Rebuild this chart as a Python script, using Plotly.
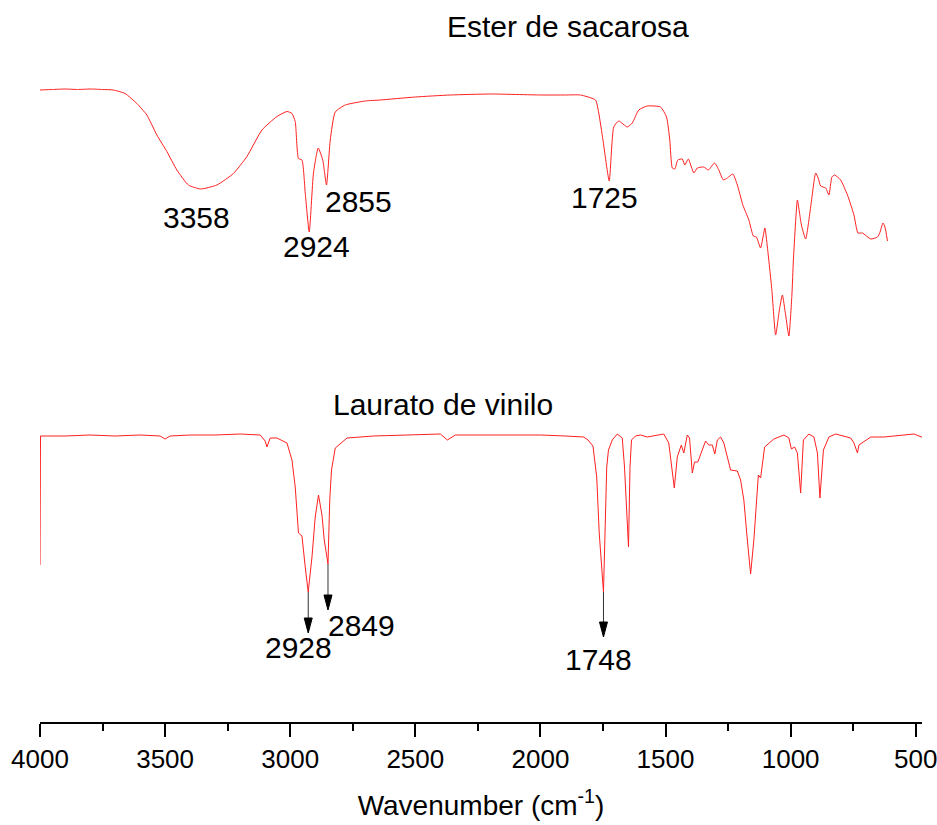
import plotly.graph_objects as go

# FTIR spectra, stacked on one intensity scale (arbitrary units)
ester_wn = [4000, 3950, 3900, 3850, 3800, 3750, 3707, 3660, 3613, 3573, 3533, 3493, 3453,
            3407, 3358, 3293, 3227, 3173, 3113, 3053, 3013, 2993, 2980, 2967, 2953, 2940,
            2924, 2907, 2888, 2870, 2855, 2840, 2820, 2780, 2700, 2640, 2500, 2360, 2200,
            2000, 1900, 1840, 1780, 1767, 1750, 1725, 1707, 1687, 1653, 1633, 1607, 1573,
            1520, 1496, 1483, 1473, 1463, 1451, 1433, 1423, 1409, 1387, 1373, 1347, 1329,
            1304, 1287, 1269, 1253, 1231, 1213, 1191, 1167, 1149, 1137, 1120, 1103, 1093,
            1075, 1060, 1045, 1033, 1020, 1007, 995, 989, 973, 965, 957, 940, 920, 900,
            890, 880, 860, 847, 835, 824, 800, 773, 747, 731, 713, 680, 653, 644, 631,
            623, 613]
ester_val = [126.4, 126.5, 126.6, 126.5, 126.6, 126.5, 126.4, 125.7, 123.7, 121.4, 117.4,
             114.1, 110.4, 107.4, 106.6, 107.4, 109.7, 113.1, 118.4, 121.1, 122.1, 121.7,
             120.1, 112.7, 112.4, 105.8, 98.0, 109.8, 114.8, 112.4, 107.4, 116.4, 122.0,
             123.4, 124.2, 124.4, 125.0, 125.4, 125.6, 125.4, 125.4, 125.4, 124.4, 121.8,
             116.4, 108.2, 119.0, 120.2, 119.0, 119.8, 122.4, 123.2, 123.0, 121.0, 116.4,
             110.8, 110.6, 112.4, 112.6, 111.4, 112.6, 109.8, 110.8, 111.0, 110.4, 111.8,
             110.4, 108.4, 108.8, 109.6, 107.4, 103.4, 100.4, 97.2, 97.0, 94.8, 98.8, 95.0,
             86.4, 77.4, 82.4, 85.4, 81.4, 77.2, 85.4, 92.4, 104.4, 102.0, 99.4, 96.6,
             103.0, 109.8, 108.8, 107.2, 106.8, 105.4, 109.0, 109.4, 108.4, 105.4, 101.4,
             97.8, 97.8, 96.6, 97.0, 97.8, 99.8, 99.0, 96.2]

laurato_wn = [4000, 3998, 3900, 3800, 3700, 3600, 3520, 3500, 3480, 3400, 3300, 3200, 3120,
              3100, 3093, 3085, 3080, 3053, 3013, 2993, 2980, 2967, 2953, 2940, 2928, 2913,
              2900, 2887, 2873, 2864, 2849, 2842, 2835, 2820, 2773, 2667, 2500, 2400, 2372,
              2340, 2200, 2000, 1900, 1827, 1810, 1790, 1775, 1765, 1748, 1742, 1735, 1728,
              1713, 1693, 1673, 1664, 1648, 1642, 1636, 1620, 1600, 1573, 1507, 1487, 1465,
              1460, 1453, 1437, 1427, 1413, 1404, 1393, 1384, 1371, 1340, 1327, 1313, 1303,
              1293, 1280, 1267, 1240, 1213, 1200, 1187, 1173, 1160, 1147, 1136, 1129, 1120,
              1104, 1067, 1027, 1007, 997, 984, 973, 960, 949, 927, 907, 893, 883, 869, 847,
              820, 760, 747, 733, 727, 680, 627, 560, 507, 467]
laurato_val = [31.4, 57.2, 57.2, 57.4, 57.2, 57.4, 57.2, 56.6, 57.2, 57.4, 57.4, 57.6, 57.4,
               56.2, 55.0, 56.4, 56.8, 56.8, 55.8, 52.4, 47.0, 37.8, 37.2, 31.0, 26.0, 33.0,
               41.0, 45.4, 41.4, 36.4, 31.6, 44.4, 50.4, 54.8, 56.8, 57.2, 57.4, 57.6, 56.4,
               57.4, 57.4, 57.4, 57.2, 57.0, 56.4, 55.2, 49.0, 37.8, 26.0, 37.8, 51.0, 54.4,
               56.4, 57.6, 56.8, 51.0, 35.0, 51.0, 56.4, 57.2, 57.4, 57.0, 57.6, 55.8, 46.8,
               49.4, 53.0, 55.4, 53.8, 57.4, 56.8, 49.8, 52.0, 52.0, 56.2, 55.4, 55.4, 53.6,
               56.4, 57.0, 55.8, 50.4, 50.2, 48.4, 44.4, 36.4, 29.6, 36.4, 44.4, 49.4, 48.8,
               55.0, 56.6, 57.4, 56.8, 54.6, 55.0, 53.8, 45.8, 56.4, 57.6, 57.0, 53.8, 44.8,
               54.4, 57.0, 57.6, 56.8, 55.8, 53.8, 55.4, 57.0, 57.0, 57.4, 57.6, 56.8]

# peak labels: (wavenumber, label x, label y)
ester_peaks = [(3358, 3376, 100.9), (2924, 2896, 95.2), (2855, 2726, 104.2), (1725, 1744, 105.0)]
laurato_peaks = [(2928, 2966, 14.9), (2849, 2716, 19.4), (1748, 1768, 12.6)]
arrow_len = [8.2, 9.2, 9.0]

x_ticks = [4000, 3500, 3000, 2500, 2000, 1500, 1000, 500]

RED = "#ff2020"
FONT = "Liberation Sans, Arial, sans-serif"

fig = go.Figure()
fig.add_trace(go.Scatter(x=ester_wn, y=ester_val, mode="lines",
                         line=dict(color=RED, width=1, shape="spline", smoothing=0.5),
                         name="Ester de sacarosa"))
fig.add_trace(go.Scatter(x=laurato_wn, y=laurato_val, mode="lines",
                         line=dict(color=RED, width=1),
                         name="Laurato de vinilo"))

annotations = []
for wn, lx, ly in ester_peaks:
    annotations.append(dict(x=lx, y=ly, xref="x", yref="y", text=str(wn), showarrow=False,
                            font=dict(size=30, color="black", family=FONT)))

# downward arrows from the vinyl laurate band minima
lookup = dict(zip(laurato_wn, laurato_val))
for (wn, lx, ly), L in zip(laurato_peaks, arrow_len):
    y0 = lookup[wn]
    tip = y0 - L
    head = 3.0      # head length in y units
    half = 16       # half head width in wavenumber units
    fig.add_trace(go.Scatter(x=[wn, wn], y=[y0, tip + head], mode="lines",
                             line=dict(color="#333333", width=1), hoverinfo="skip"))
    fig.add_trace(go.Scatter(x=[wn - half, wn + half, wn, wn - half],
                             y=[tip + head, tip + head, tip, tip + head],
                             mode="lines", fill="toself", fillcolor="black",
                             line=dict(color="black", width=1), hoverinfo="skip"))
    annotations.append(dict(x=lx, y=ly, xref="x", yref="y", text=str(wn), showarrow=False,
                            font=dict(size=30, color="black", family=FONT)))

annotations.append(dict(x=0.5986, y=0.994, xref="paper", yref="paper",
                        text="Ester de sacarosa", showarrow=False,
                        xanchor="center", yanchor="middle",
                        font=dict(size=30, color="black", family=FONT)))
annotations.append(dict(x=0.457, y=0.454, xref="paper", yref="paper",
                        text="Laurato de vinilo", showarrow=False,
                        xanchor="center", yanchor="middle",
                        font=dict(size=30, color="black", family=FONT)))

fig.update_layout(
    width=937, height=825,
    margin=dict(l=40, r=15, t=22, b=103),
    paper_bgcolor="white", plot_bgcolor="white",
    showlegend=False,
    annotations=annotations,
    font=dict(family=FONT, color="black"),
)
fig.update_xaxes(
    range=[4000, 475], tickvals=x_ticks, ticktext=[str(t) for t in x_ticks],
    automargin=False, ticklabeloverflow="allow",
    showline=True, linecolor="black", linewidth=2,
    ticks="outside", ticklen=13, tickwidth=1.5, tickcolor="black",
    minor=dict(dtick=250, tick0=0, ticks="outside", ticklen=7, tickwidth=1.5, tickcolor="black"),
    showgrid=False, zeroline=False,
    tickfont=dict(size=26, family=FONT, color="black"),
    title=dict(text="Wavenumber (cm<sup>-1</sup>)", font=dict(size=28, family=FONT, color="black"),
               standoff=22),
)
fig.update_yaxes(visible=False, range=[0, 140])

fig.write_html("out.html")
